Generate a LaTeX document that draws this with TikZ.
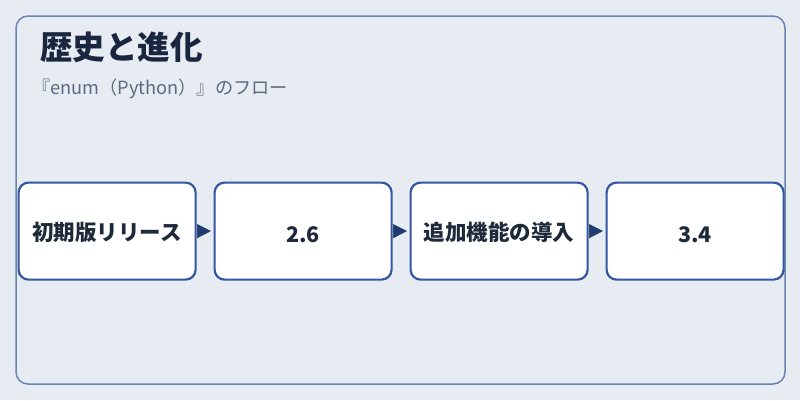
\documentclass[tikz,border=0pt]{standalone}
\usepackage{fontspec}
\setmainfont{Noto Sans CJK JP}
\usetikzlibrary{arrows.meta}
\definecolor{bgc}{HTML}{E6ECF2}
\definecolor{framec}{HTML}{6A83B0}
\definecolor{boxc}{HTML}{3556A0}
\definecolor{arrc}{HTML}{1F3A6E}
\definecolor{titlec}{HTML}{1A2540}
\definecolor{subc}{HTML}{5A6A80}
\definecolor{textc}{HTML}{1E2A3A}
\tikzset{
  stepbox/.style={draw=boxc, line width=2.2pt, fill=white, rounded corners=10pt,
    minimum width=177pt, minimum height=97pt, inner sep=0pt, anchor=north west,
    font=\fontsize{21.5}{24}\selectfont\bfseries, text=textc,
    text height=22pt, text depth=3.2pt},
  numbox/.style={stepbox, text height=24pt, text depth=2pt},
  flowarrow/.style={draw=arrc, line width=0.5pt, shorten >=2.5pt, shorten <=1pt,
    -{Triangle[length=14pt,width=14pt]}, fill=arrc}
}
\begin{document}
\begin{tikzpicture}[x=1pt,y=-1pt]
\fill[bgc] (0,0) rectangle (800,400);
\useasboundingbox (0,0) rectangle (800,400);
\draw[framec, line width=1.5pt, rounded corners=12pt] (16,16) rectangle (785,384);
\node[anchor=west, text=titlec, font=\fontsize{32.5}{36}\selectfont\bfseries, inner sep=0pt] (title) at (40,47) {歴史と進化};
\node[anchor=west, text=subc, font=\fontsize{18.2}{21}\selectfont, inner sep=0pt] (sub) at (32,89) {『enum（Python）』のフロー};
\node[stepbox] (b1) at (17.5,181.5) {初期版リリース};
\node[numbox] (b2) at (213.5,181.5) {2.6};
\node[stepbox] (b3) at (409.5,181.5) {追加機能の導入};
\node[numbox] (b4) at (605.5,181.5) {3.4};
\draw[flowarrow] (b1.east) -- (b2.west);
\draw[flowarrow] (b2.east) -- (b3.west);
\draw[flowarrow] (b3.east) -- (b4.west);
\end{tikzpicture}
\end{document}
